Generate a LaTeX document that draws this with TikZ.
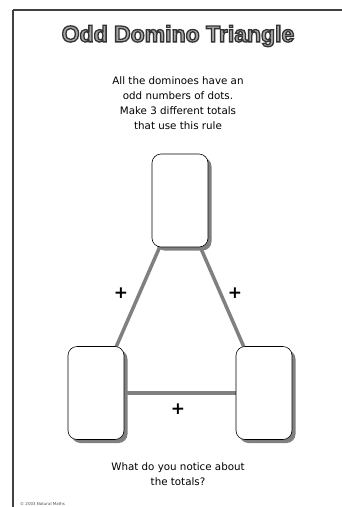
\documentclass[tikz,border=0pt]{standalone}
\usepackage{fontspec}
\setmainfont{DejaVu Sans}
\newfontfamily\titlefont{Liberation Sans}[BoldFont={Liberation Sans Bold}]
\usetikzlibrary{shadows,backgrounds}
\newcommand{\outlinedtext}[1]{\special{pdf:literal direct 2 Tr 1.3 w 0.2 0.2 0.2 RG}#1\special{pdf:literal direct 0 Tr}}
\begin{document}
\begin{tikzpicture}[x=1pt,y=-1pt,
  domino/.style={draw=black, line width=0.6pt, fill=white, rounded corners=9pt,
    minimum width=56pt, minimum height=93pt, inner sep=0pt,
    drop shadow={shadow xshift=3.5pt, shadow yshift=-3.5pt, fill=black!50, opacity=1}},
  link/.style={draw=black!50, line width=3.5pt},
  plus/.style={font=\bfseries\fontsize{17}{17}\selectfont, inner sep=0pt},
  body/.style={align=center, font=\fontsize{10.3}{15}\selectfont, text=black}]
\useasboundingbox (0,0) rectangle (342,507);
\draw[line width=1.8pt, black!75] (13,10) -- (13,520) (13,10) -- (360,10);
\node[font=\titlefont\bfseries\fontsize{23}{23}\selectfont, text=black!35] (title) at (178,36)
  {\outlinedtext{Odd Domino Triangle}};
\node[body] (intro) at (178,103)
  {All the dominoes have an\\odd numbers of dots.\\Make 3 different totals\\that use this rule};
\node[domino] (top) at (180,200.5) {};
\node[domino] (left) at (96,393) {};
\node[domino] (right) at (264,393) {};
\begin{scope}[on background layer]
\draw[link] (top.center) -- (left.center);
\draw[link] (top.center) -- (right.center);
\draw[link] (left.center) -- (right.center);
\end{scope}
\node[plus] (p1) at (121,293) {+};
\node[plus] (p2) at (235,293) {+};
\node[plus] (p3) at (178,409) {+};
\node[body] (question) at (178,474) {What do you notice about\\the totals?};
\node[anchor=west, font=\fontsize{4}{4}\selectfont, text=black!70, inner sep=0pt] (copy) at (20,504) {© 2003 Natural Maths};
\end{tikzpicture}
\end{document}
